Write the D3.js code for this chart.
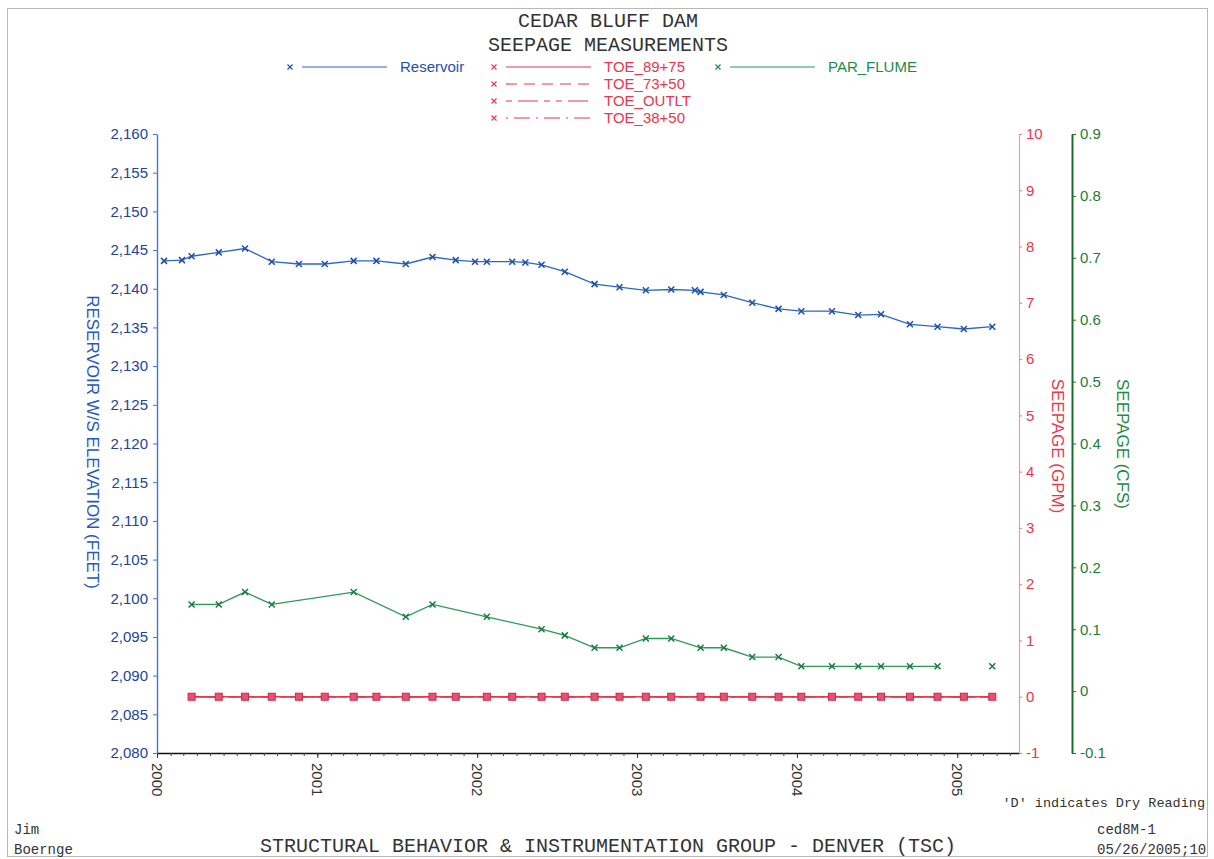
<!DOCTYPE html>
<html>
<head>
<meta charset="utf-8">
<script src="https://cdn.jsdelivr.net/npm/d3@7"></script>
<style>
  html, body { margin: 0; padding: 0; background: #fff; }
  svg { display: block; }
  .sans { font-family: "Liberation Sans", Arial, sans-serif; }
  .mono { font-family: "Liberation Mono", "Courier New", monospace; }
</style>
</head>
<body>
<svg id="chart" width="1214" height="859"></svg>
<script>
// ---- Reservoir water surface elevation (feet) ----
const reservoirDates = [
  "2000-01-17","2000-02-27","2000-03-20","2000-05-21","2000-07-20","2000-09-19",
  "2000-11-20","2001-01-18","2001-03-25","2001-05-16","2001-07-22","2001-09-21",
  "2001-11-13","2001-12-27","2002-01-23","2002-03-22","2002-04-21","2002-05-28",
  "2002-07-20","2002-09-26","2002-11-22","2003-01-21","2003-03-20","2003-05-13",
  "2003-05-26","2003-07-18","2003-09-21","2003-11-20","2004-01-11","2004-03-21",
  "2004-05-20","2004-07-11","2004-09-15","2004-11-17","2005-01-16","2005-03-22"
];
const reservoirElev = [
  2143.6, 2143.7, 2144.2, 2144.7, 2145.2, 2143.5,
  2143.2, 2143.2, 2143.6, 2143.6, 2143.2, 2144.1,
  2143.7, 2143.5, 2143.5, 2143.5, 2143.4, 2143.1,
  2142.2, 2140.6, 2140.2, 2139.8, 2139.9, 2139.8,
  2139.6, 2139.2, 2138.2, 2137.4, 2137.1, 2137.1,
  2136.6, 2136.7, 2135.4, 2135.1, 2134.8, 2135.1
];

// ---- Toe drain weirs (GPM) ----
const toeDates = [
  "2000-03-20","2000-05-21","2000-07-20","2000-09-19","2000-11-20","2001-01-18",
  "2001-03-25","2001-05-16","2001-07-22","2001-09-21","2001-11-13","2002-01-23",
  "2002-03-22","2002-05-28","2002-07-20","2002-09-26","2002-11-22","2003-01-21",
  "2003-03-20","2003-05-26","2003-07-18","2003-09-21","2003-11-20","2004-01-11",
  "2004-03-21","2004-05-20","2004-07-11","2004-09-15","2004-11-17","2005-01-16",
  "2005-03-22"
];
const toe8975 = [0,0,0,0,0,0,0,0,0,0,0,0,0,0,0,0,0,0,0,0,0,0,0,0,0,0,0,0,0,0,0];
const toe7350 = [0,0,0,0,0,0,0,0,0,0,0,0,0,0,0,0,0,0,0,0,0,0,0,0,0,0,0,0,0,0,0];
const toeOutlt = [0,0,0,0,0,0,0,0,0,0,0,0,0,0,0,0,0,0,0,0,0,0,0,0,0,0,0,0,0,0,0];
const toe3850 = [0,0,0,0,0,0,0,0,0,0,0,0,0,0,0,0,0,0,0,0,0,0,0,0,0,0,0,0,0,0,0];

// ---- Parshall flume (CFS); null = no reading, line is broken ----
const flumeDates = [
  "2000-03-20","2000-05-21","2000-07-20","2000-09-19","2001-03-25","2001-07-22",
  "2001-09-21","2002-01-23","2002-05-28","2002-07-20","2002-09-26","2002-11-22",
  "2003-01-21","2003-03-20","2003-05-26","2003-07-18","2003-09-21","2003-11-20",
  "2004-01-11","2004-03-21","2004-05-20","2004-07-11","2004-09-15","2004-11-17",
  "2005-01-16","2005-03-22"
];
const flumeCfs = [
  0.14, 0.14, 0.16, 0.14, 0.16, 0.12,
  0.14, 0.12, 0.10, 0.09, 0.07, 0.07,
  0.085, 0.085, 0.07, 0.07, 0.055, 0.055,
  0.04, 0.04, 0.04, 0.04, 0.04, 0.04,
  null, 0.04
];

// ---- Axis ticks ----
const elevTicks = [2080,2085,2090,2095,2100,2105,2110,2115,2120,2125,2130,2135,2140,2145,2150,2155,2160];
const gpmTicks = [-1,0,1,2,3,4,5,6,7,8,9,10];
const cfsTicks = [-0.1,0,0.1,0.2,0.3,0.4,0.5,0.6,0.7,0.8,0.9];
const yearTicks = ["2000-01-01","2001-01-01","2002-01-01","2003-01-01","2004-01-01","2005-01-01"];
const xDomain = ["2000-01-01","2005-05-22"];

// ---- Layout ----
const svg = d3.select("#chart");
const L = 157, R = 1019, T = 134, B = 753;
const parse = d3.utcParse("%Y-%m-%d");

const x = d3.scaleUtc().domain(xDomain.map(parse)).range([L, R]);
const yElev = d3.scaleLinear().domain([2080, 2160]).range([B, T]);
const yGpm = d3.scaleLinear().domain([-1, 10]).range([B, T]);
const yCfs = d3.scaleLinear().domain([-0.1, 0.9]).range([B, T]);

const BLUE = "#2d66c6", BLUE_DK = "#22439a", RED = "#e8384c", GREEN = "#2a9a58", GREEN_DK = "#1d6e2e";
const hy = s => String(s).replace("\u2212", "-");

// page frame
svg.append("rect").attr("x", 7.5).attr("y", 8.5).attr("width", 1200).attr("height", 848)
  .attr("fill", "none").attr("stroke", "#b8b8b8").attr("stroke-width", 1);

// ---- Titles ----
svg.append("text").attr("class", "mono").attr("x", 608).attr("y", 27)
  .attr("text-anchor", "middle").attr("font-size", 20).attr("fill", "#333").text("CEDAR BLUFF DAM");
svg.append("text").attr("class", "mono").attr("x", 608).attr("y", 51)
  .attr("text-anchor", "middle").attr("font-size", 20).attr("fill", "#333").text("SEEPAGE MEASUREMENTS");

// x-shaped point marker
const xMark = (sel, r) => sel.append("path").attr("d", `M${-r},${-r}L${r},${r}M${-r},${r}L${r},${-r}`);

// ---- Legend ----
const legend = svg.append("g").attr("class", "sans");
function legendItem(lx, ly, color, markColor, dash, label) {
  const g = legend.append("g");
  xMark(g.append("g").attr("transform", `translate(${lx},${ly})`), 2.5)
    .attr("stroke", markColor).attr("stroke-width", 1.2);
  g.append("line").attr("x1", lx + 12).attr("x2", lx + 97).attr("y1", ly).attr("y2", ly)
    .attr("stroke", color).attr("stroke-width", 1.2).attr("stroke-dasharray", dash);
  g.append("text").attr("x", lx + 110).attr("y", ly + 5).attr("font-size", 15)
    .attr("fill", markColor).text(label);
}
legendItem(290, 67, BLUE, "#2250b0", null, "Reservoir");
legendItem(494, 67, RED, RED, null, "TOE_89+75");
legendItem(494, 84, RED, RED, "11,7", "TOE_73+50");
legendItem(494, 101, RED, RED, "6,6,20,6,6,6", "TOE_OUTLT");
legendItem(494, 118, RED, RED, "2,6,16,6", "TOE_38+50");
legendItem(718, 67, GREEN, "#1e8a48", null, "PAR_FLUME");

// ---- Axes ----
// x: monthly minor ticks, yearly labelled ticks
const gxMinor = svg.append("g").attr("transform", `translate(0,${B})`)
  .call(d3.axisBottom(x).ticks(d3.utcMonth.every(1)).tickSize(3).tickSizeOuter(0).tickFormat(""));
gxMinor.select(".domain").attr("stroke", "#111").attr("stroke-width", 1.5);
gxMinor.selectAll(".tick line").attr("stroke", "#444");

const gx = svg.append("g").attr("transform", `translate(0,${B})`).attr("class", "sans")
  .call(d3.axisBottom(x).tickValues(yearTicks.map(parse)).tickSize(5).tickSizeOuter(0)
    .tickFormat(d3.utcFormat("%Y")));
gx.select(".domain").remove();
gx.selectAll(".tick line").attr("stroke", "#333");
gx.selectAll(".tick text")
  .attr("font-size", 15).attr("fill", "#333")
  .attr("text-anchor", "start").attr("dy", null)
  .attr("dominant-baseline", "central")
  .attr("transform", "translate(0,1) rotate(90)")
  .attr("y", 0).attr("x", 9);

// left: reservoir elevation
const gl = svg.append("g").attr("transform", `translate(${L},0)`).attr("class", "sans")
  .call(d3.axisLeft(yElev).tickValues(elevTicks).tickSize(4).tickSizeOuter(0).tickPadding(5)
    .tickFormat(d3.format(",")));
gl.select(".domain").attr("stroke", "#3a78dc").attr("stroke-width", 1.4);
gl.selectAll(".tick line").attr("stroke", "#3a78dc");
gl.selectAll(".tick text").attr("font-size", 15).attr("fill", BLUE_DK);

// right 1: seepage GPM
const gr = svg.append("g").attr("transform", `translate(${R},0)`).attr("class", "sans")
  .call(d3.axisRight(yGpm).tickValues(gpmTicks).tickSize(3).tickSizeOuter(0).tickPadding(4)
    .tickFormat(d => hy(d3.format("d")(d))));
gr.select(".domain").attr("stroke", "#f19aa2").attr("stroke-width", 1.2);
gr.selectAll(".tick line").attr("stroke", "#ee7a86");
gr.selectAll(".tick text").attr("font-size", 15).attr("fill", RED);

// right 2: seepage CFS
const gg = svg.append("g").attr("transform", `translate(1072,0)`).attr("class", "sans")
  .call(d3.axisRight(yCfs).tickValues(cfsTicks).tickSize(4).tickSizeOuter(0).tickPadding(4)
    .tickFormat(d => Math.abs(d) < 1e-9 ? "0" : hy(d3.format(".1f")(d))));
gg.select(".domain").attr("stroke", GREEN_DK).attr("stroke-width", 2);
gg.selectAll(".tick line").attr("stroke", GREEN_DK);
gg.selectAll(".tick text").attr("font-size", 15).attr("fill", "#1f7a38");

// axis titles
function vTitle(tx, ty, color, label) {
  svg.append("text").attr("class", "sans").attr("transform", `translate(${tx},${ty}) rotate(90)`)
    .attr("text-anchor", "middle").attr("dominant-baseline", "central")
    .attr("font-size", 17).attr("fill", color).text(label);
}
vTitle(92, 442, "#2458c0", "RESERVOIR W/S ELEVATION (FEET)");
vTitle(1057, 446, RED, "SEEPAGE (GPM)");
vTitle(1122, 444, "#1f8a3e", "SEEPAGE (CFS)");

// ---- Series ----
const plot = svg.append("g");

// Toe weirs (all coincide at zero)
const toeSeries = [
  { v: toe8975, dash: null },
  { v: toe7350, dash: "11,7" },
  { v: toeOutlt, dash: "6,6,20,6,6,6" },
  { v: toe3850, dash: "2,6,16,6" }
];
const toeLine = d3.line().x(d => x(d.t)).y(d => yGpm(d.v));
toeSeries.forEach(s => {
  const pts = toeDates.map((t, i) => ({ t: parse(t), v: s.v[i] }));
  plot.append("path").datum(pts).attr("d", toeLine).attr("fill", "none")
    .attr("stroke", RED).attr("stroke-width", 1.6).attr("stroke-dasharray", s.dash);
});
const toePts = toeDates.map((t, i) => ({ t: parse(t), v: toe8975[i] }));
plot.append("g").selectAll("rect").data(toePts).join("rect")
  .attr("x", d => x(d.t) - 3.5).attr("y", d => yGpm(d.v) - 3.5)
  .attr("width", 7).attr("height", 7)
  .attr("fill", "#e25570").attr("stroke", "#cf2545").attr("stroke-width", 1);

// Parshall flume
const flumePts = flumeDates.map((t, i) => ({ t: parse(t), v: flumeCfs[i] }));
const flumeLine = d3.line().defined(d => d.v != null).x(d => x(d.t)).y(d => yCfs(d.v));
plot.append("path").datum(flumePts).attr("d", flumeLine).attr("fill", "none")
  .attr("stroke", GREEN).attr("stroke-width", 1.3);
plot.append("g").selectAll("g").data(flumePts.filter(d => d.v != null)).join("g")
  .attr("transform", d => `translate(${x(d.t)},${yCfs(d.v)})`)
  .each(function () { xMark(d3.select(this), 3).attr("stroke", "#1a7a44").attr("stroke-width", 1.5); });

// Reservoir
const resPts = reservoirDates.map((t, i) => ({ t: parse(t), v: reservoirElev[i] }));
const resLine = d3.line().x(d => x(d.t)).y(d => yElev(d.v));
plot.append("path").datum(resPts).attr("d", resLine).attr("fill", "none")
  .attr("stroke", BLUE).attr("stroke-width", 1.3);
plot.append("g").selectAll("g").data(resPts).join("g")
  .attr("transform", d => `translate(${x(d.t)},${yElev(d.v)})`)
  .each(function () { xMark(d3.select(this), 3).attr("stroke", "#1f4ea6").attr("stroke-width", 1.5); });

// ---- Footer ----
const foot = (fx, fy, anchor, size, label) =>
  svg.append("text").attr("class", "mono").attr("x", fx).attr("y", fy)
    .attr("text-anchor", anchor).attr("font-size", size).attr("fill", "#333").text(label);
foot(1205, 807, "end", 13.5, "'D' indicates Dry Reading");
foot(14, 834, "start", 14, "Jim");
foot(14, 854, "start", 14, "Boernge");
foot(608, 852, "middle", 20, "STRUCTURAL BEHAVIOR & INSTRUMENTATION GROUP - DENVER (TSC)");
foot(1097, 834, "start", 14, "ced8M-1");
foot(1097, 854, "start", 14, "05/26/2005;10");
</script>
</body>
</html>
